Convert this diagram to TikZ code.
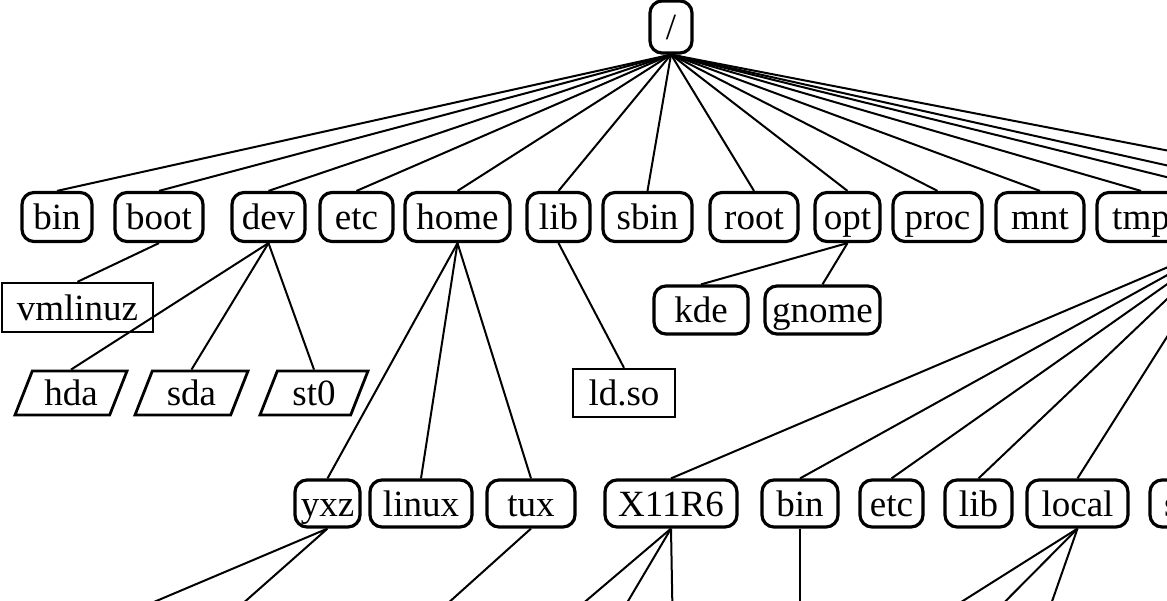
\documentclass[tikz,border=0pt]{standalone}
\usepackage{fontspec}
\setmainfont{Liberation Serif}
\usetikzlibrary{shapes.geometric}

\begin{document}
\begin{tikzpicture}[x=1pt,y=-1pt,font=\fontsize{37}{40}\selectfont,
	every node/.style={text height=30pt,text depth=4pt},
	folder/.style={draw,line width=3.2pt,rounded corners=12pt,minimum height=49pt,inner sep=0pt},
	plainfile/.style={draw,line width=2.4pt,minimum height=48pt,inner sep=0pt},
	device/.style={draw,line width=2.8pt,trapezium,trapezium left angle=63,trapezium right angle=117,
		trapezium stretches body,minimum height=44pt,inner sep=0pt},
	branch/.style={line width=2pt}]
	\useasboundingbox (0,0) rectangle (1167,601);
	\clip (0,0) rectangle (1167,601);

	\node[folder,minimum width=42pt,minimum height=52pt] (root) at (671,27) {/};

	\node[folder,minimum width=70pt] (bin) at (57,217) {bin};
	\node[folder,minimum width=88pt] (boot) at (159,217) {boot};
	\node[folder,minimum width=73pt] (dev) at (268.5,217) {dev};
	\node[folder,minimum width=73pt] (etc) at (356.5,217) {etc};
	\node[folder,minimum width=105pt] (home) at (457.5,217) {home};
	\node[folder,minimum width=63pt] (lib) at (558.5,217) {lib};
	\node[folder,minimum width=89pt] (sbin) at (647.5,217) {sbin};
	\node[folder,minimum width=88pt] (rootdir) at (754,217) {root};
	\node[folder,minimum width=65pt] (opt) at (847.5,217) {opt};
	\node[folder,minimum width=89pt] (proc) at (937.5,217) {proc};
	\node[folder,minimum width=88pt] (mnt) at (1040,217) {mnt};
	\node[folder,minimum width=88pt] (tmp) at (1141,217) {tmp};
	\coordinate (usrtop) at (1227,192);
	\coordinate (usr) at (1227,242);
	\coordinate (var) at (1286,192);
	\coordinate (sys) at (1382,192);

	\node[plainfile,minimum width=151pt,minimum height=49pt] (vmlinuz) at (77.5,307.5) {vmlinuz};
	\node[device,minimum width=112pt] (hda) at (71,393) {hda};
	\node[device,minimum width=113pt] (sda) at (191.5,393) {sda};
	\node[device,minimum width=108pt] (st0) at (314,393) {st0};
	\node[plainfile,minimum width=102pt] (ldso) at (624,393) {ld.so};
	\node[folder,minimum width=94pt,minimum height=48pt] (kde) at (701,310) {kde};
	\node[folder,minimum width=115pt,minimum height=48pt] (gnome) at (822.5,310) {gnome};

	\node[folder,minimum width=65pt,minimum height=47pt] (yxz) at (327.5,503.5) {yxz};
	\node[folder,minimum width=102pt,minimum height=47pt] (linux) at (421,503.5) {linux};
	\node[folder,minimum width=88pt,minimum height=47pt] (tux) at (531,503.5) {tux};
	\node[folder,minimum width=132pt,minimum height=47pt] (x11r6) at (671,503.5) {X11R6};
	\node[folder,minimum width=76pt,minimum height=47pt] (ubin) at (800,503.5) {bin};
	\node[folder,minimum width=63pt,minimum height=47pt] (uetc) at (891.5,503.5) {etc};
	\node[folder,minimum width=67pt,minimum height=47pt] (ulib) at (978.5,503.5) {lib};
	\node[folder,minimum width=101pt,minimum height=47pt] (ulocal) at (1077.5,503.5) {local};
	\node[folder,minimum width=90pt,minimum height=47pt] (usbin) at (1195,503.5) {sbin};

	\coordinate (yxza) at (64,640);
	\coordinate (yxzb) at (201.5,640);
	\coordinate (tuxa) at (407,640);
	\coordinate (x11a) at (540,640);
	\coordinate (x11b) at (605,640);
	\coordinate (x11c) at (673,640);
	\coordinate (ubina) at (800,640);
	\coordinate (loca) at (901,640);
	\coordinate (locb) at (967,640);
	\coordinate (locc) at (1038.5,640);

	\foreach \d in {bin,boot,dev,etc,home,lib,sbin,rootdir,opt,proc,mnt,tmp}
		\draw[branch] (root.south) -- (\d.north);
	\foreach \d in {usrtop,var,sys}
		\draw[branch] (root.south) -- (\d);
	\draw[branch] (boot.south) -- (vmlinuz.north);
	\foreach \d in {hda,sda,st0}
		\draw[branch] (dev.south) -- (\d.north);
	\foreach \d in {yxz,linux,tux}
		\draw[branch] (home.south) -- (\d.north);
	\draw[branch] (lib.south) -- (ldso.north);
	\foreach \d in {kde,gnome}
		\draw[branch] (opt.south) -- (\d.north);
	\foreach \d in {x11r6,ubin,uetc,ulib,ulocal,usbin}
		\draw[branch] (usr) -- (\d.north);
	\draw[branch] (yxz.south) -- (yxza) (yxz.south) -- (yxzb)
		(tux.south) -- (tuxa);
	\foreach \d in {x11a,x11b,x11c}
		\draw[branch] (x11r6.south) -- (\d);
	\draw[branch] (ubin.south) -- (ubina);
	\foreach \d in {loca,locb,locc}
		\draw[branch] (ulocal.south) -- (\d);
\end{tikzpicture}
\end{document}
